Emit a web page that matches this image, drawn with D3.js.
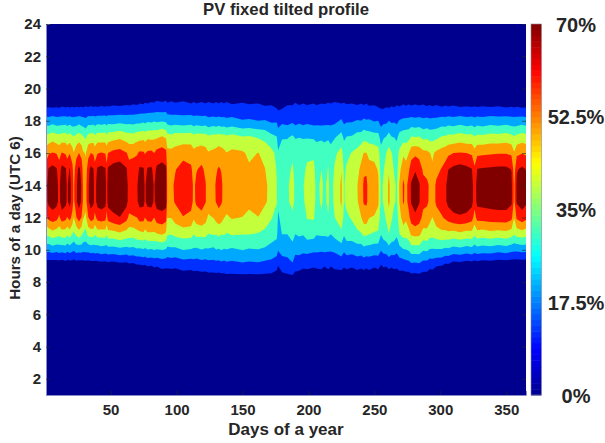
<!DOCTYPE html>
<html>
<head>
<meta charset="utf-8">
<script src="https://cdn.jsdelivr.net/npm/d3@7"></script>
<style>
    body { margin: 0; background: #fff; }
    text { font-family: "Liberation Sans", Arial, sans-serif; font-weight: bold; fill: #262626; }
</style>
</head>
<body>
<div id="chart"></div>
<script>
const days = [
    1,3,6,9,11,13,16,17,19,21,
    22,24,26,28,29,31,33,35,37,38,
    40,43,46,47,48,52,57,62,64,67,
    70,72,75,76,78,81,83,85,89,92,
    93,96,99,105,111,113,115,119,122,124,
    128,130,132,134,136,138,142,150,155,162,
    167,172,176,177,180,184,188,190,193,196,
    199,204,206,210,212,215,217,220,225,227,
    229,233,237,240,242,244,246,250,253,255,
    257,259,261,263,265,267,269,272,274,276,
    278,281,284,287,290,292,294,297,301,304,
    306,310,315,320,324,326,328,332,338,344,
    350,354,356,358,362,365
];

// PV output in % for each clock hour, one value per entry of days
const hour08 = [
    0,0,0,0,0,0,0,0,0,0,
    0,0,0,0,0,0,0,0,0,0,
    0,0,0,0,0,0,0.5,0.5,0.5,0.5,
    1,1,1,1,1,1,1,1,1,1,
    1.5,1.5,1.5,2,2,2,2,2,2.5,2.5,
    2.5,2.5,2.5,2.5,3,3,3,3,3,3,
    3,3,2.5,2,3,3,3,2.5,2,2,
    2,2,2,2,2,2,2,2,2,2,
    2,2,2,2,2,2,2,2,2,1.5,
    1.5,2,2,2,2,2,2,2,2,2,
    2,2,2,2,2,1.5,1.5,1,1,0.5,
    0.5,0,0,0,0,0,0,0,0,0,
    0,0,0,0,0,0
];
const hour09 = [
    2,2.5,1.5,2,2.5,1.5,3,2,2.5,3,
    2,3,2.5,2,3,3.5,2.5,3,3.5,2.5,
    3.5,4,3.5,4.5,4,3.5,5,4.5,6,5.5,
    7,7.5,8,7.5,9,8.5,9.5,9,10.5,10,
    10,10.5,10,11.5,11,12,11.5,12.5,12,13,
    13,13.5,13,14,13.5,14.5,14,15,14.5,15,
    14,13.5,11,8.5,12.5,14,16,12,11.5,10,
    10.5,9.5,10,10.5,9,10.5,9,10.5,11,9.5,
    10.5,9.5,11,10,11,10,11,9.5,10.5,8,
    9.5,9,10.5,9.5,10.5,10,11.5,11.5,12.5,12.5,
    14.5,14,15,12.5,12.5,10.5,11,9,8.5,6,
    6.5,3.5,4,2.5,3.5,2,3,2,2.5,1.5,
    2,1,1.5,1,1.5,1
];
const hour10 = [
    20.5,19.5,21.5,20,21,20.5,21.5,19.5,21,19.5,
    18.5,21,20.5,21,19.5,20,20,21.5,20.5,22,
    21,22.5,21.5,22,23,22.5,24,23,24,23.5,
    25,24.5,25.5,24.5,26,25.5,26.5,25.5,26.5,25.5,
    23.5,24.5,24,26.5,25.5,25,24.5,26,25,25.5,
    24.5,26,25.5,26.5,25.5,26,25,26.5,25.5,26,
    25,23,21.5,18,20.5,20.5,23,20,20.5,19.5,
    20,19,19,18.5,19,18.5,18.5,19,22,19,
    21,20.5,22,21.5,23.5,22.5,22.5,21.5,21.5,18,
    20,20.5,23,21,21,19.5,23,25.5,26,27,
    30.5,30.5,30.5,27,27.5,25.5,25.5,25.5,25.5,24,
    24.5,22.5,23.5,22,23,21,22.5,21.5,22,20.5,
    21.5,20,19.5,19.5,20.5,20
];
const hour11 = [
    37,38,40.5,38.5,37.5,39.5,39,37,39.5,35.5,
    33.5,37,40,37,34.5,32,38,38.5,39,36,
    39.5,39,39.5,36.5,40,40.5,42.5,40,39,39,
    41,41.5,42.5,40.5,42.5,42.5,42.5,43.5,45,42.5,
    36.5,35.5,37.5,38.5,38.5,35.5,37.5,37.5,37.5,35,
    36,35.5,37,35.5,36,34.5,36,35.5,35.5,34.5,
    33,30.5,28.5,22.5,26.5,26.5,29.5,26.5,27.5,27,
    30,29.5,27,27.5,27.5,28,26.5,29,32.5,27.5,
    30.5,31,33.5,34.5,37,36.5,35.5,34,33.5,27,
    30,31.5,35,32,30.5,28,35,38.5,38,40.5,
    45.5,46.5,46,40.5,41,38.5,38,39.5,41.5,41,
    41.5,40.5,42,40.5,41,37,40.5,39.5,41,40,
    41,39,36,38.5,40,38.5
];
const hour12 = [
    50,55,57,55.5,51,57,55,52,55.5,49.5,
    43.5,52,56.5,52,45,41.5,52,56.5,54.5,50,
    55.5,57,55.5,49.5,56,59,61,56,50.5,51.5,
    52.5,56,55.5,52.5,55.5,56,52.5,57,58,56,
    44,44,47.5,52,50,45,48,50,47,42.5,
    44,47,49,47.5,44,42.5,44.5,43.5,41,43.5,
    40,35.5,32,25,29,30.5,33.5,30,30,30.5,
    35.5,36,31,34,31,34.5,30,35,41.5,32.5,
    33.5,36,39,43.5,48,48.5,44,43,40.5,30,
    32.5,36,41,36,32.5,31,40,48.5,45.5,50,
    56.5,59.5,56.5,50,49,46.5,43.5,49,51.5,54,
    56,59,60,59,56,49,55.5,56,57,57.5,
    57.5,55,44,54,57.5,55
];
const hour13 = [
    58,63.5,66,64,59,66,63.5,60,64,57,
    50,60,65,60,52,48,60,65,63,58,
    64.5,65.5,64,57,64.5,66,67,64,58,59,
    60,64.5,64,60,64,64.5,60,65,66,65,
    50,50,53.5,58,56,50.5,54,56,53,48,
    50,53,55,53.5,50,48,50,49,46.5,48,
    45,41,35.5,28,32,34,37,33.5,33,34,
    37.5,38,33,36,33,36.5,32,37,45,34.5,
    37,40,43,48,53.5,54,49,48,45,33,
    36,40,45.5,40,36,34,44,53.5,50,55,
    62,65,62,55,54,51,48,54,57,60,
    64,66,67,66,64,56,64,64.5,65,65.5,
    65.5,63,50,62.5,65.5,63
];
const hour14 = [
    58.5,64,66.5,64,59,66,64,60,64.5,57,
    50.5,60,65,60.5,52,48.5,60,65.5,63,58,
    65,65.5,64.5,57.5,64.5,66.5,67,64,58.5,59,
    60.5,65,64.5,60,64.5,64.5,60.5,65.5,66.5,65,
    50.5,50.5,54,58,56,51,54,56,53,48.5,
    50,53.5,55,54,50,48.5,50.5,49.5,46.5,48.5,
    45,41.5,35.5,28.5,32.5,34,37.5,33.5,33,34.5,
    38,38.5,33,36.5,33.5,36.5,32,37.5,45,34.5,
    37,40.5,43.5,48,54,54,49.5,48,45,33.5,
    36,40.5,45.5,40,36.5,34,44.5,54,50,55.5,
    62.5,65,62,55.5,54,51.5,48,54,57.5,60,
    64.5,66.5,67,66,64,56.5,64.5,64.5,65.5,66,
    66,63,50.5,63,65.5,63.5
];
const hour15 = [
    56,62,64,62,57,64,62,58,62,55,
    48.5,58,63.5,58,50,46.5,58,63.5,61.5,56,
    62.5,63.5,62,55,62.5,65,66,62,56,57,
    58,62.5,62,58,62,62.5,58,63,64.5,63,
    48.5,48.5,52,56,54,49,52,54,51,46.5,
    48.5,51.5,53.5,52,48.5,46.5,48.5,47.5,45,46.5,
    44,39.5,34.5,27,31,33,36,32.5,32,33,
    36.5,37,32,35,32,35.5,31,36,43.5,33.5,
    36,38.5,41,46,51,51.5,47,46,43,31.5,
    34.5,38,43,38,34.5,32.5,41,50,47,51,
    57,60.5,58,51,50,47.5,45,50,53,56,
    61,63.5,65,63.5,61.5,54,61.5,62,62.5,63,
    63,61,48,60.5,63,61
];
const hour16 = [
    48.5,51.5,53,52,49,53,51.5,49.5,52,48,
    44,49.5,52.5,49.5,45,43,49.5,52.5,51.5,48.5,
    52,53,52,48.5,52.5,55,56,53,50,50.5,
    51.5,54,53.5,52,54,54.5,52.5,55.5,57,55,
    46,46,47,49.5,48.5,46,47,48.5,47,44.5,
    45.5,46.5,47.5,47,45.5,44,45.5,45,42,44,
    41,37.5,33,27,30,31.5,33.5,31.5,31,31.5,
    33,33.5,31,32.5,30.5,33,29.5,33.5,38,31.5,
    33,35.5,37.5,41,44,44,41.5,41,38.5,29.5,
    32,35,38.5,35.5,32.5,31,37,42,40.5,43.5,
    49,50.5,49,46,45.5,44,42.5,45.5,47.5,49,
    50.5,52.5,53,52.5,51,47,50.5,51,51.5,52,
    52,51,44.5,50.5,52,51
];
const hour17 = [
    37.5,38,40,38,38,39,39,37.5,39,36.5,
    35.5,37.5,39.5,37.5,36,33.5,38.5,38.5,39,37,
    39.5,39,39.5,37.5,39.5,40.5,42,39.5,39,38.5,
    40.5,40.5,41.5,40,42,41.5,42,42.5,44.5,42.5,
    38.5,37.5,39,39,39.5,37.5,38.5,38.5,38.5,36.5,
    38,37.5,39,37.5,38,36.5,38,35.5,36,34,
    32.5,28.5,26.5,22.5,25.5,25.5,27.5,25.5,26,25.5,
    25.5,25,24,24.5,24,24.5,23.5,25.5,29.5,24.5,
    26.5,27,29.5,30,32,31.5,30.5,29.5,29,23,
    25.5,26.5,29.5,26.5,26,24.5,29.5,31.5,31.5,32.5,
    35.5,35,35.5,33,33.5,32,32,33,35.5,36,
    37.5,37.5,39,37.5,38,35.5,37.5,37,38.5,38,
    39,37.5,35.5,37.5,39,38
];
const hour18 = [
    21.5,21,22.5,21,21.5,21.5,22,21,22,20.5,
    21,21,22.5,21,21,19.5,22,21.5,22.5,21,
    22.5,22,23,21.5,23,22.5,23.5,22.5,23,22.5,
    23.5,23.5,24.5,23.5,25,24.5,25.5,24.5,25.5,24.5,
    22.5,21.5,22,21,22,20.5,21.5,20.5,21,19.5,
    20.5,19.5,20.5,19.5,20,19,20,18,18.5,17.5,
    18,16,16.5,13.5,15.5,14.5,16,14.5,15.5,14.5,
    15.5,14.5,15,14.5,15,15,15,15.5,18.5,15.5,
    16.5,16.5,18,17.5,19,18,18.5,17,17.5,14,
    15.5,15.5,17.5,16,16.5,15.5,18,19,19.5,19.5,
    20.5,19.5,20.5,19,20,19,19.5,19.5,21,20.5,
    21.5,20.5,22,20.5,21.5,20,21.5,20.5,22,21,
    22,21,21,21,22,21
];
const hour19 = [
    6,6.5,5.5,6.5,5.5,7,6,7,6,7,
    6,7,6,7,6,7.5,6.5,7.5,6.5,7.5,
    6.5,7.5,6.5,7.5,7,8,7.5,8.5,8,9,
    8.5,9.5,9,10,9.5,10.5,10,11.5,10.5,11.5,
    10,11,10,11,9.5,10.5,9.5,10.5,9.5,10.5,
    9.5,10.5,9.5,10.5,9.5,10.5,9,10,9,9.5,
    8,8.5,6.5,6,6.5,8.5,8.5,10,8.5,9.5,
    8.5,9.5,8.5,9.5,9,10,9.5,10.5,9.5,10,
    9,9.5,8.5,9.5,8.5,9.5,8,8.5,7,7,
    6.5,7.5,6.5,8,7,8.5,7.5,9,8,9,
    8,9,8,9,7.5,8.5,7.5,8.5,7,8,
    7,8,6.5,7.5,6.5,7.5,6.5,7.5,6.5,7.5,
    6,7,6,7,5.5,6
];

const levels = [8.75, 17.5, 26.25, 35, 43.75, 52.5, 61.25];
const bandColors = ['#00008f', '#0030ff', '#00a8ff', '#40ffc0', '#c4ff3c', '#ffa000', '#ff1400', '#800000'];
const jetStops = ['#00008f', '#0000ff', '#00ffff', '#ffff00', '#ff0000', '#800000'];
const xTicks = [50, 100, 150, 200, 250, 300, 350];
const yTicks = [2, 4, 6, 8, 10, 12, 14, 16, 18, 20, 22, 24];
const barTicks = [0, 17.5, 35, 52.5, 70];

const width = 605, height = 443;
const margin = { top: 24, right: 79, bottom: 48, left: 46 };

const svg = d3.select('#chart').append('svg')
    .attr('width', width)
    .attr('height', height)
    .style('display', 'block');

const x = d3.scaleLinear().domain([1, 365]).range([margin.left, width - margin.right]);
const y = d3.scaleLinear().domain([1, 24]).range([height - margin.bottom, margin.top]);

svg.append('clipPath').attr('id', 'plot-clip')
    .append('rect')
    .attr('x', margin.left)
    .attr('y', margin.top)
    .attr('width', width - margin.left - margin.right)
    .attr('height', height - margin.top - margin.bottom);

svg.append('rect')
    .attr('x', margin.left)
    .attr('y', margin.top)
    .attr('width', width - margin.left - margin.right)
    .attr('height', height - margin.top - margin.bottom)
    .attr('fill', bandColors[0]);

// night rows stay at zero so the contours close above and below the day
const zeroRow = days.map(() => 0);
const rows = [zeroRow, hour08, hour09, hour10, hour11, hour12, hour13, hour14, hour15, hour16, hour17, hour18, hour19, zeroRow];
const rowHours = d3.range(7, 21);
const grid = rows.flat();

const dayAt = d3.scaleLinear().domain(d3.range(days.length)).range(days);
const hourAt = d3.scaleLinear().domain(d3.range(rowHours.length)).range(rowHours);

const contours = d3.contours()
    .size([days.length, rowHours.length])
    .thresholds(levels)(grid);

const path = d3.geoPath(d3.geoTransform({
    point(px, py) {
        this.stream.point(x(dayAt(px - 0.5)), y(hourAt(py - 0.5)));
    }
}));

svg.append('g')
    .attr('clip-path', 'url(#plot-clip)')
    .selectAll('path')
    .data(contours)
    .join('path')
    .attr('d', path)
    .attr('fill', (d, i) => bandColors[i + 1]);

// axes, ticks point into the plot
const xAxis = d3.axisBottom(x).tickValues(xTicks).tickSize(-4).tickPadding(9);
const yAxis = d3.axisLeft(y).tickValues(yTicks).tickSize(-4).tickPadding(5);

const gx = svg.append('g')
    .attr('transform', `translate(0,${height - margin.bottom})`)
    .call(xAxis);
const gy = svg.append('g')
    .attr('transform', `translate(${margin.left},0)`)
    .call(yAxis);

[gx, gy].forEach(g => {
    g.selectAll('text').style('font-size', '15px');
    g.selectAll('line').attr('stroke', '#262626').attr('stroke-width', 0.6);
    g.select('.domain').attr('stroke', '#8a8ac8').attr('stroke-width', 1);
});

svg.append('g')
    .attr('transform', `translate(${width - margin.right},0)`)
    .call(d3.axisRight(y).tickValues(yTicks).tickSize(-4).tickFormat(''))
    .call(g => g.select('.domain').remove())
    .call(g => g.selectAll('line').attr('stroke', '#262626').attr('stroke-width', 0.6));

svg.append('text')
    .attr('x', 286)
    .attr('y', 15)
    .attr('text-anchor', 'middle')
    .style('font-size', '16.7px')
    .text('PV fixed tilted profile');

svg.append('text')
    .attr('x', 286)
    .attr('y', 435)
    .attr('text-anchor', 'middle')
    .style('font-size', '17px')
    .text('Days of a year');

svg.append('text')
    .attr('transform', 'translate(20,218) rotate(-90)')
    .attr('text-anchor', 'middle')
    .style('font-size', '15.2px')
    .text('Hours of a day (UTC 6)');

// colorbar, 64 steps of jet
const barX = 531, barW = 10.5;
const barY = d3.scaleLinear().domain([0, 70]).range([height - margin.bottom, margin.top]);
const jet = d3.scaleLinear()
    .domain([0, 1 / 8, 3 / 8, 5 / 8, 7 / 8, 1])
    .range(jetStops);
const steps = d3.range(64);

svg.append('g')
    .selectAll('rect')
    .data(steps)
    .join('rect')
    .attr('x', barX)
    .attr('width', barW)
    .attr('y', d => barY((d + 1) * 70 / 64))
    .attr('height', d => barY(d * 70 / 64) - barY((d + 1) * 70 / 64) + 0.5)
    .attr('fill', d => jet((d + 0.5) / 64));

svg.append('rect')
    .attr('x', barX)
    .attr('y', margin.top)
    .attr('width', barW)
    .attr('height', height - margin.top - margin.bottom)
    .attr('fill', 'none')
    .attr('stroke', '#8a8a9a')
    .attr('stroke-width', 0.6);

svg.append('g')
    .selectAll('text')
    .data(barTicks)
    .join('text')
    .attr('x', 576)
    .attr('y', d => barY(d) + 7.5)
    .attr('text-anchor', 'middle')
    .style('font-size', '20px')
    .text(d => `${d}%`);
</script>
</body>
</html>
